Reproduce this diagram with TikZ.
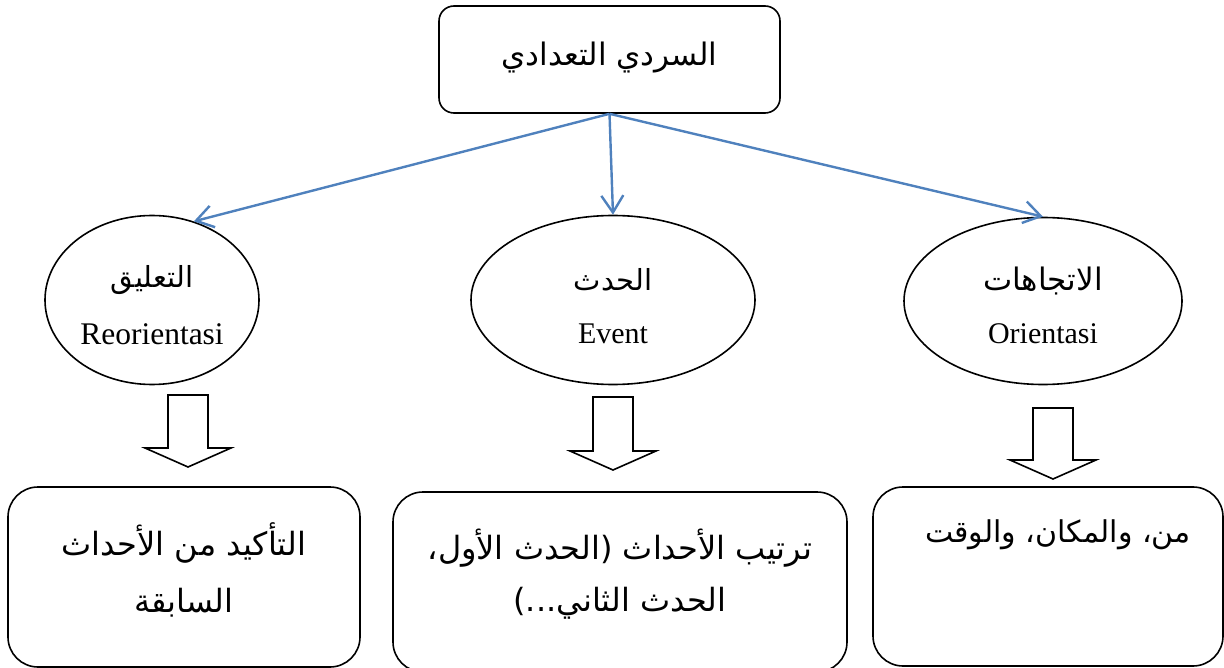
\documentclass[tikz,border=0pt]{standalone}
\usepackage{fontspec}
\setmainfont{Liberation Serif}
\newfontfamily\arabicfont[Script=Arabic]{DejaVu Sans}
\TeXXeTstate=1
\usetikzlibrary{shapes.geometric,arrows.meta}
\definecolor{arrowblue}{RGB}{79,129,189}
\def\hollowarrow(#1,#2,#3,#4){\draw[line width=1.6pt, line join=miter] (#1-20,#2) -- (#1+20,#2) -- (#1+20,#3) -- (#1+43,#3) -- (#1,#4) -- (#1-43,#3) -- (#1-20,#3) -- cycle;}
\tikzset{
  topbox/.style={draw, line width=1.6pt, rounded corners=15pt, minimum width=341pt, minimum height=107pt, inner sep=0pt},
  oval/.style={draw, ellipse, line width=1.6pt, inner sep=0pt},
  bigbox/.style={draw, line width=1.6pt, rounded corners=30pt, inner sep=0pt},
  flow/.style={draw=arrowblue, line width=2.4pt, -{Straight Barb[length=17pt,width=22pt]}},
  artxt/.style={font=\arabicfont\fontsize{29}{34}\selectfont, inner sep=0pt},
  boxtxt/.style={font=\arabicfont\fontsize{32}{38}\selectfont, inner sep=0pt},
  lattxt/.style={font=\fontsize{30}{36}\selectfont, inner sep=0pt}
}

\begin{document}
\begin{tikzpicture}[x=1pt,y=-1pt]
				\clip (0,0) rectangle (1224,668);
				
				% head
				\node[topbox] (head) at (609.5,59.5) {};
				\node[artxt, font=\arabicfont\fontsize{31}{36}\selectfont] (headtxt) at (609.5,58) {\beginR السردي التعدادي\endR};
				
				% three parts
				\node[oval, minimum width=214pt, minimum height=169pt] (reor) at (152,300) {};
				\node[artxt] (reorar) at (152,280) {\beginR التعليق\endR};
				\node[lattxt, font=\fontsize{31.5}{36}\selectfont] (reorla) at (152,334) {Reorientasi};
				
				\node[oval, minimum width=284pt, minimum height=169pt] (event) at (613,300) {};
				\node[artxt] (eventar) at (613,280) {\beginR الحدث\endR};
				\node[lattxt] (eventla) at (613,334) {Event};
				
				\node[oval, minimum width=278pt, minimum height=167pt] (orie) at (1043,301) {};
				\node[artxt, font=\arabicfont\fontsize{31}{36}\selectfont] (oriear) at (1043,281) {\beginR الاتجاهات\endR};
				\node[lattxt] (oriela) at (1043,334) {Orientasi};
				
				\draw[flow] (head.south) -- (reor.62);
				\draw[flow] (head.south) -- (event.north);
				\draw[flow] (head.south) -- (orie.north);
				
				% hollow arrows
				\hollowarrow(188,395,448,467)
				\hollowarrow(613,397,451,470)
				\hollowarrow(1053,408,460,479)
				
				% bottom boxes
				\node[bigbox, minimum width=352pt, minimum height=180pt] (reorbox) at (184,577) {};
				\node[boxtxt] (reorl1) at (184,543) {\beginR التأكيد من الأحداث\endR};
				\node[boxtxt] (reorl2) at (184,603) {\beginR السابقة\endR};
				
				\node[bigbox, minimum width=454pt, minimum height=180pt] (eventbox) at (620,582) {};
				\node[boxtxt] (eventl1) at (620,548) {\beginR ترتيب الأحداث (الحدث الأول،\endR};
				\node[boxtxt] (eventl2) at (620,603) {\beginR الحدث الثاني...)\endR};
				
				\node[bigbox, minimum width=350pt, minimum height=179pt] (oriebox) at (1048,576.5) {};
				\node[boxtxt, font=\arabicfont\fontsize{30}{36}\selectfont] (oriel1) at (1058,535) {\beginR من، والمكان، والوقت\endR};
			\end{tikzpicture}
\end{document}
